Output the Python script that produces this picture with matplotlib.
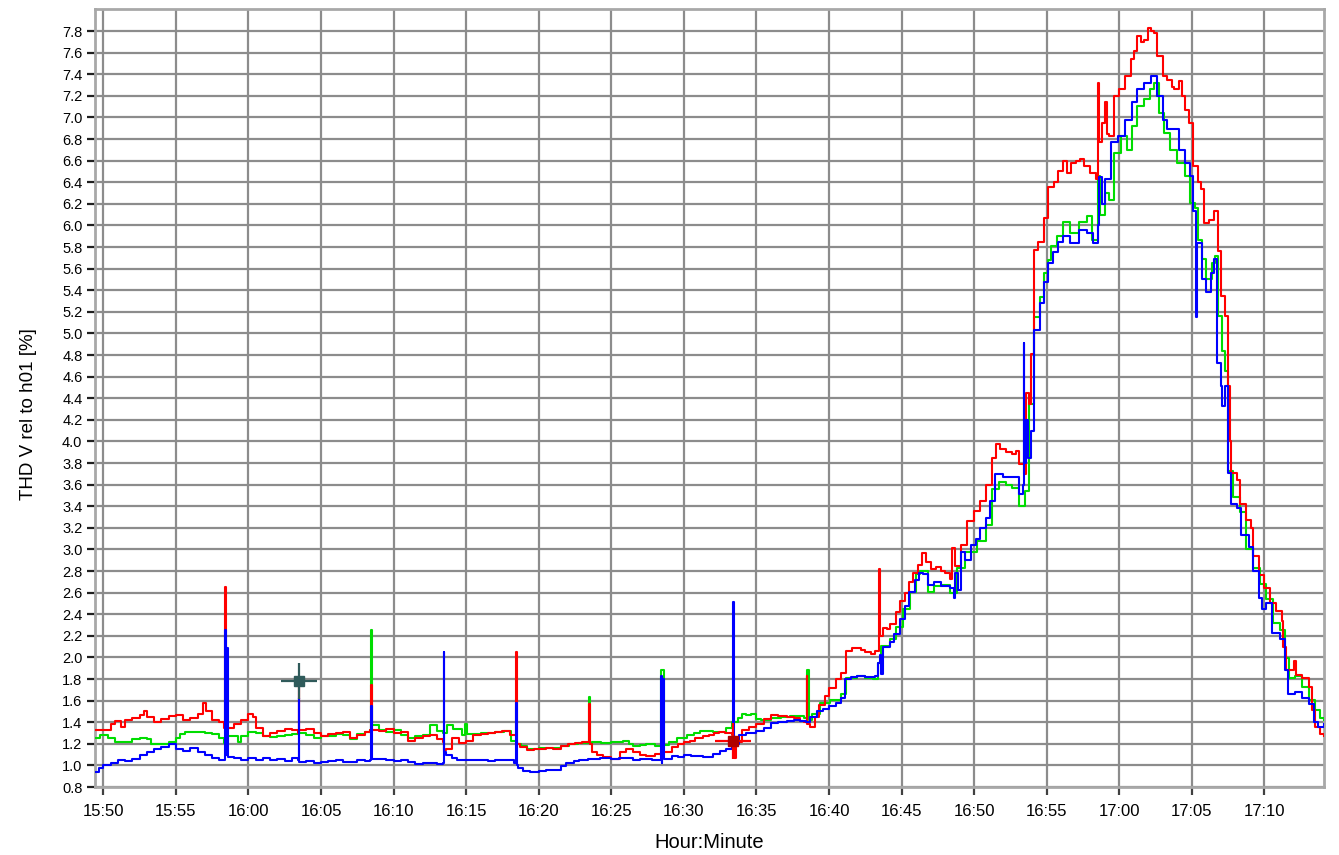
import matplotlib
matplotlib.use("Agg")
import matplotlib.pyplot as plt
import numpy as np

# ---- data: minutes after 15:50, THD value [%] ----
red_points = [
    (-0.57, 1.33), (0, 1.33), (0.5, 1.38), (0.8, 1.41), (1.2, 1.36), (1.5, 1.42), (2, 1.44), (2.5, 1.47),
    (2.8, 1.50), (3, 1.45), (3.5, 1.40), (4, 1.43), (4.5, 1.46), (5, 1.47), (5.5, 1.42), (6, 1.44),
    (6.5, 1.48), (6.9, 1.58), (7.1, 1.50), (7.5, 1.42), (8, 1.40), (8.3, 1.35), (8.42, 2.65), (8.47, 1.33),
    (8.6, 1.35), (9, 1.38), (9.5, 1.42), (10, 1.48), (10.3, 1.45), (10.5, 1.35), (11, 1.27), (11.5, 1.30),
    (12, 1.32), (12.5, 1.34), (13, 1.33), (13.4, 1.30), (13.45, 1.80), (13.5, 1.33), (14, 1.34), (14.5, 1.30),
    (15, 1.27), (15.5, 1.29), (16, 1.30), (16.5, 1.31), (17, 1.25), (17.5, 1.28), (18, 1.31), (18.4, 1.33),
    (18.45, 1.74), (18.5, 1.33), (19, 1.32), (19.5, 1.34), (20, 1.30), (20.5, 1.31), (21, 1.23), (21.5, 1.25),
    (22, 1.27), (22.5, 1.28), (23, 1.24), (23.4, 1.22), (23.45, 1.14), (23.6, 1.15), (24, 1.25), (24.5, 1.21),
    (25, 1.23), (25.5, 1.28), (26, 1.29), (26.5, 1.30), (27, 1.31), (27.5, 1.32), (28, 1.28), (28.4, 1.27),
    (28.45, 2.05), (28.5, 1.20), (28.7, 1.17), (29.2, 1.14), (29.7, 1.15), (30, 1.15), (30.5, 1.16), (31, 1.15),
    (31.5, 1.18), (32, 1.20), (32.5, 1.21), (33, 1.22), (33.4, 1.22), (33.45, 1.57), (33.5, 1.20), (33.7, 1.12),
    (34, 1.10), (34.4, 1.08), (35, 1.06), (35.6, 1.12), (36, 1.15), (36.5, 1.12), (37, 1.10), (37.4, 1.09),
    (38, 1.11), (38.4, 1.12), (38.8, 1.12), (39.2, 1.17), (39.6, 1.20), (40, 1.22), (40.4, 1.23), (40.8, 1.25),
    (41.3, 1.27), (41.7, 1.28), (42.1, 1.30), (42.4, 1.31), (42.8, 1.30), (43.3, 1.28), (43.45, 1.07), (43.6, 1.22),
    (44, 1.33), (44.5, 1.36), (45, 1.38), (45.5, 1.43), (46, 1.47), (46.5, 1.46), (47.1, 1.45), (47.6, 1.44),
    (48, 1.41), (48.3, 1.40), (48.45, 1.83), (48.5, 1.38), (48.7, 1.36), (49, 1.45), (49.3, 1.56), (49.7, 1.64),
    (50, 1.72), (50.5, 1.80), (50.8, 1.86), (51.2, 2.06), (51.6, 2.09), (51.9, 2.09), (52.2, 2.07), (52.5, 2.05),
    (52.9, 2.03), (53.2, 2.06), (53.42, 2.82), (53.5, 2.20), (53.7, 2.27), (54, 2.26), (54.2, 2.31), (54.6, 2.42),
    (54.9, 2.52), (55.2, 2.60), (55.5, 2.70), (55.8, 2.78), (56.1, 2.86), (56.4, 2.97), (56.7, 2.88), (57, 2.82),
    (57.4, 2.84), (57.7, 2.80), (58, 2.78), (58.3, 2.73), (58.5, 3.01), (58.7, 2.85), (59.1, 3.04), (59.5, 3.26),
    (60, 3.36), (60.4, 3.45), (60.8, 3.60), (61.2, 3.85), (61.5, 3.98), (61.8, 3.93), (62.2, 3.90), (62.6, 3.88),
    (62.9, 3.91), (63.1, 3.79), (63.4, 3.70), (63.6, 4.45), (63.8, 4.35), (63.9, 4.81), (64.1, 5.77), (64.4, 5.85),
    (64.8, 6.07), (65.1, 6.36), (65.5, 6.40), (65.8, 6.50), (66.1, 6.60), (66.4, 6.49), (66.7, 6.58), (67, 6.60),
    (67.3, 6.62), (67.6, 6.55), (68, 6.49), (68.4, 6.43), (68.5, 7.32), (68.6, 6.77), (68.8, 6.95), (69, 7.14),
    (69.15, 6.85), (69.3, 6.83), (69.6, 7.20), (70, 7.26), (70.4, 7.38), (70.8, 7.54), (71, 7.62), (71.2, 7.75),
    (71.5, 7.70), (71.7, 7.72), (72, 7.83), (72.2, 7.80), (72.4, 7.78), (72.6, 7.57), (73, 7.38), (73.3, 7.35),
    (73.6, 7.28), (73.8, 7.26), (74.1, 7.34), (74.3, 7.20), (74.5, 7.07), (74.8, 6.95), (75.1, 6.55), (75.4, 6.40),
    (75.6, 6.34), (75.8, 6.02), (76.2, 6.05), (76.5, 6.13), (76.8, 5.76), (77, 5.35), (77.3, 5.16), (77.5, 4.51),
    (77.6, 4.00), (77.7, 3.71), (78.1, 3.64), (78.3, 3.42), (78.7, 3.27), (79.1, 3.20), (79.2, 2.94), (79.6, 2.76),
    (80, 2.64), (80.4, 2.50), (80.8, 2.43), (81.2, 2.34), (81.3, 2.10), (81.5, 1.88), (82, 1.97), (82.2, 1.84),
    (82.6, 1.81), (83.1, 1.73), (83.3, 1.51), (83.5, 1.36), (83.8, 1.29), (84.1, 1.27),
]

green_points = [
    (-0.57, 1.25), (-0.2, 1.28), (0.3, 1.25), (0.8, 1.22), (1.5, 1.22), (2, 1.24), (2.5, 1.25), (3, 1.24),
    (3.3, 1.20), (4, 1.20), (4.5, 1.22), (5, 1.25), (5.3, 1.29), (5.6, 1.31), (6.5, 1.31), (7, 1.30),
    (7.5, 1.29), (8, 1.25), (8.3, 1.21), (8.6, 1.27), (9, 1.27), (9.3, 1.22), (9.5, 1.27), (10, 1.31),
    (10.5, 1.30), (11, 1.27), (11.5, 1.26), (12, 1.27), (12.5, 1.28), (13, 1.29), (13.5, 1.30), (14, 1.28),
    (14.5, 1.25), (15, 1.27), (15.5, 1.27), (16, 1.29), (16.5, 1.28), (17, 1.24), (17.5, 1.29), (18, 1.31),
    (18.4, 1.33), (18.45, 2.25), (18.5, 1.37), (19, 1.33), (19.5, 1.31), (20, 1.33), (20.5, 1.28), (21, 1.25),
    (21.5, 1.27), (22, 1.28), (22.5, 1.37), (23, 1.32), (23.4, 1.30), (23.7, 1.37), (24.1, 1.34), (24.7, 1.28),
    (24.95, 1.38), (25.05, 1.29), (25.5, 1.29), (26, 1.30), (26.5, 1.30), (27, 1.31), (27.6, 1.32), (28.1, 1.23),
    (28.5, 1.20), (28.8, 1.18), (29.2, 1.15), (30, 1.16), (31, 1.16), (31.5, 1.18), (32.1, 1.20), (32.7, 1.21),
    (33.3, 1.21), (33.45, 1.63), (33.5, 1.21), (33.7, 1.22), (34.3, 1.21), (35, 1.22), (35.8, 1.23), (36.2, 1.20),
    (36.5, 1.18), (37, 1.19), (37.4, 1.20), (38, 1.18), (38.3, 1.18), (38.42, 1.88), (38.6, 1.19), (39, 1.22),
    (39.5, 1.25), (40.2, 1.28), (40.7, 1.30), (41.1, 1.32), (41.6, 1.32), (42, 1.31), (42.4, 1.31), (42.9, 1.35),
    (43.3, 1.40), (43.7, 1.44), (44, 1.48), (44.3, 1.47), (44.6, 1.48), (45, 1.43), (45.3, 1.42), (46, 1.44),
    (46.7, 1.45), (47.3, 1.46), (47.8, 1.46), (48.3, 1.44), (48.45, 1.88), (48.6, 1.42), (48.8, 1.48), (49.4, 1.58),
    (50.1, 1.61), (50.8, 1.66), (51.2, 1.81), (51.9, 1.83), (52.5, 1.81), (53, 1.80), (53.4, 1.95), (53.6, 2.11),
    (54.2, 2.17), (54.6, 2.28), (55.1, 2.45), (55.6, 2.61), (56, 2.77), (56.3, 2.80), (56.8, 2.61), (57.2, 2.66),
    (57.7, 2.67), (58.3, 2.60), (58.8, 2.83), (59.4, 2.98), (60.2, 3.08), (60.8, 3.23), (61.2, 3.56), (61.7, 3.62),
    (62.2, 3.60), (62.6, 3.57), (63.1, 3.40), (63.5, 3.54), (63.8, 4.35), (64.1, 5.15), (64.5, 5.34), (64.8, 5.56),
    (65.1, 5.68), (65.3, 5.81), (65.7, 5.90), (66.1, 6.03), (66.6, 5.93), (67.2, 6.03), (67.8, 6.09), (68.1, 5.87),
    (68.5, 6.46), (68.7, 6.10), (69, 6.30), (69.3, 6.24), (69.6, 6.67), (70.1, 6.83), (70.5, 6.70), (70.9, 6.92),
    (71.2, 7.11), (71.7, 7.17), (72.1, 7.26), (72.4, 7.32), (72.7, 7.04), (73.1, 6.86), (73.5, 6.70), (74, 6.58),
    (74.5, 6.46), (74.9, 6.21), (75.2, 6.16), (75.4, 5.87), (75.7, 5.69), (76, 5.50), (76.4, 5.65), (76.6, 5.72),
    (76.8, 5.16), (77.1, 4.84), (77.3, 4.65), (77.5, 3.73), (77.8, 3.49), (78.3, 3.35), (78.7, 3.00), (79.2, 2.83),
    (79.7, 2.68), (80.1, 2.54), (80.6, 2.32), (81.1, 2.25), (81.4, 1.99), (81.7, 1.81), (82.1, 1.83), (82.6, 1.73),
    (83.1, 1.61), (83.5, 1.51), (83.8, 1.44), (84.1, 1.42),
]

blue_points = [
    (-0.57, 0.94), (-0.3, 0.98), (0, 1.00), (0.5, 1.02), (1, 1.05), (1.5, 1.04), (2, 1.06), (2.5, 1.10),
    (3, 1.12), (3.5, 1.15), (4, 1.17), (4.5, 1.20), (5, 1.15), (5.5, 1.13), (6, 1.16), (6.5, 1.12),
    (7, 1.10), (7.5, 1.07), (8, 1.05), (8.35, 1.05), (8.42, 2.25), (8.47, 1.10), (8.55, 2.09), (8.6, 1.08),
    (9, 1.07), (9.5, 1.05), (10, 1.07), (10.5, 1.05), (11, 1.07), (11.5, 1.05), (12, 1.06), (12.5, 1.04),
    (13, 1.07), (13.4, 1.05), (13.45, 1.62), (13.5, 1.03), (14, 1.04), (14.5, 1.02), (15, 1.03), (15.5, 1.04),
    (16, 1.05), (16.5, 1.03), (17, 1.03), (17.5, 1.05), (18, 1.04), (18.4, 1.05), (18.45, 1.55), (18.5, 1.06),
    (19, 1.06), (19.5, 1.05), (20, 1.04), (20.5, 1.05), (21, 1.03), (21.5, 1.01), (22, 1.02), (22.5, 1.02),
    (23, 1.01), (23.4, 1.02), (23.45, 2.05), (23.5, 1.12), (23.6, 1.10), (24, 1.07), (24.4, 1.05), (25, 1.05),
    (25.5, 1.05), (26, 1.05), (26.5, 1.04), (27, 1.05), (27.8, 1.05), (28.3, 1.02), (28.45, 1.58), (28.5, 1.00),
    (28.6, 0.98), (28.9, 0.95), (29.4, 0.94), (30, 0.95), (30.5, 0.96), (31, 0.96), (31.5, 0.99), (31.9, 1.02),
    (32.4, 1.04), (32.8, 1.05), (33.4, 1.06), (34.2, 1.07), (35, 1.06), (35.5, 1.07), (36, 1.07), (36.5, 1.05),
    (37, 1.06), (37.8, 1.05), (38.3, 1.05), (38.42, 1.83), (38.47, 1.02), (38.52, 1.80), (38.6, 1.06), (39.2, 1.09),
    (39.6, 1.08), (40, 1.10), (40.5, 1.09), (41.3, 1.08), (42, 1.11), (42.5, 1.13), (42.9, 1.15), (43.3, 1.18),
    (43.4, 2.51), (43.45, 1.20), (43.8, 1.28), (44.3, 1.30), (45, 1.32), (45.5, 1.35), (46, 1.39), (46.5, 1.40),
    (47.1, 1.41), (47.6, 1.42), (48, 1.41), (48.4, 1.40), (48.7, 1.45), (49.2, 1.50), (49.6, 1.52), (50, 1.55),
    (50.5, 1.58), (50.8, 1.62), (51.1, 1.80), (51.5, 1.82), (51.9, 1.83), (52.5, 1.82), (52.9, 1.82), (53.2, 1.83),
    (53.4, 1.95), (53.5, 2.02), (53.6, 1.85), (53.7, 2.10), (54.2, 2.14), (54.5, 2.22), (54.9, 2.36), (55.2, 2.48),
    (55.5, 2.61), (55.9, 2.72), (56.2, 2.78), (56.5, 2.77), (56.8, 2.67), (57.2, 2.70), (57.7, 2.66), (58.3, 2.64),
    (58.6, 2.55), (58.7, 2.78), (58.9, 2.62), (59.1, 2.98), (59.4, 2.90), (59.8, 3.04), (60.1, 3.10), (60.4, 3.20),
    (60.8, 3.29), (61.1, 3.45), (61.4, 3.70), (62, 3.67), (62.6, 3.67), (63.1, 3.51), (63.35, 3.60), (63.4, 4.91),
    (63.45, 3.80), (63.6, 4.20), (63.7, 3.85), (63.9, 4.10), (64.1, 5.03), (64.5, 5.28), (64.8, 5.48), (65.1, 5.65),
    (65.4, 5.75), (65.8, 5.85), (66.1, 5.90), (66.6, 5.84), (67.2, 5.96), (67.8, 5.93), (68.2, 5.84), (68.5, 6.00),
    (68.6, 6.45), (68.8, 6.20), (69, 6.43), (69.4, 6.77), (69.9, 6.83), (70.4, 6.98), (70.9, 7.14), (71.2, 7.26),
    (71.7, 7.32), (72.2, 7.38), (72.6, 7.20), (73, 6.98), (73.3, 6.89), (73.8, 6.89), (74.1, 6.70), (74.5, 6.58),
    (74.9, 6.46), (75.1, 6.13), (75.25, 5.15), (75.35, 5.84), (75.7, 5.50), (76, 5.38), (76.3, 5.56), (76.5, 5.69),
    (76.7, 4.73), (77, 4.51), (77.1, 4.33), (77.3, 4.51), (77.5, 3.71), (77.7, 3.42), (78.1, 3.38), (78.4, 3.13),
    (78.9, 3.02), (79.2, 2.80), (79.6, 2.55), (79.8, 2.45), (80.1, 2.50), (80.5, 2.23), (81.1, 2.17), (81.4, 1.88),
    (81.6, 1.66), (82.1, 1.68), (82.6, 1.62), (83.1, 1.57), (83.4, 1.40), (83.7, 1.36), (84.1, 1.38),
]

# cursor markers (minutes after 15:50, value)
cursor_t = [13.45, 43.4]
cursor_v = [1.78, 1.23]
cursor_colors = ["#2f5a5a", "#b00000"]
cursor_line_colors = ["#2f5a5a", "#ff0000"]

x_tick_minutes = [0, 5, 10, 15, 20, 25, 30, 35, 40, 45, 50, 55, 60, 65, 70, 75, 80]
x_tick_labels = ["15:50", "15:55", "16:00", "16:05", "16:10", "16:15", "16:20", "16:25", "16:30",
                 "16:35", "16:40", "16:45", "16:50", "16:55", "17:00", "17:05", "17:10"]
y_ticks = [round(0.8 + 0.2 * i, 1) for i in range(36)]
x_range = (-0.57, 84.1)
y_range = (0.8, 8.0)

plt.rcParams['font.family'] = ['Liberation Sans', 'DejaVu Sans']

fig = plt.figure(figsize=(13.39, 8.55), dpi=100)
ax = fig.add_axes([95 / 1339, 68 / 855, 1229 / 1339, 777.5 / 855])

for pts, col in [(green_points, "#00dd00"), (red_points, "#ff0000"), (blue_points, "#0000ff")]:
    t, v = zip(*pts)
    ax.plot(t, v, color=col, lw=1.5, drawstyle="steps-post", zorder=3)

for ct, cv, cc, lc in zip(cursor_t, cursor_v, cursor_colors, cursor_line_colors):
    ax.plot([ct], [cv], marker="+", markersize=26, mew=1.6, color=lc, zorder=4, linestyle="none")
    ax.plot([ct], [cv], marker="s", markersize=6.5, color=cc, zorder=5, linestyle="none")

ax.set_xlim(*x_range)
ax.set_ylim(*y_range)
ax.set_xticks(x_tick_minutes)
ax.set_xticklabels(x_tick_labels)
ax.set_yticks(y_ticks)
ax.set_yticklabels([f"{y:.1f}" for y in y_ticks])
ax.set_axisbelow(True)
ax.grid(True, color="#8c8c8c", lw=1.6)
for s in ax.spines.values():
    s.set_color("#a8a8a8")
    s.set_linewidth(2)
ax.tick_params(axis="y", direction="out", length=6, width=1.6, color="#202020", labelsize=10.5, pad=3)
ax.tick_params(axis="x", direction="out", length=6, width=1.6, color="#404040", labelsize=12, pad=6)
ax.set_ylabel("THD V rel to h01 [%]", fontsize=13.5)
ax.yaxis.set_label_coords(-0.047, 0.48)
ax.set_xlabel("Hour:Minute", fontsize=14.5, labelpad=10)

fig.savefig("out.png", dpi=100)
